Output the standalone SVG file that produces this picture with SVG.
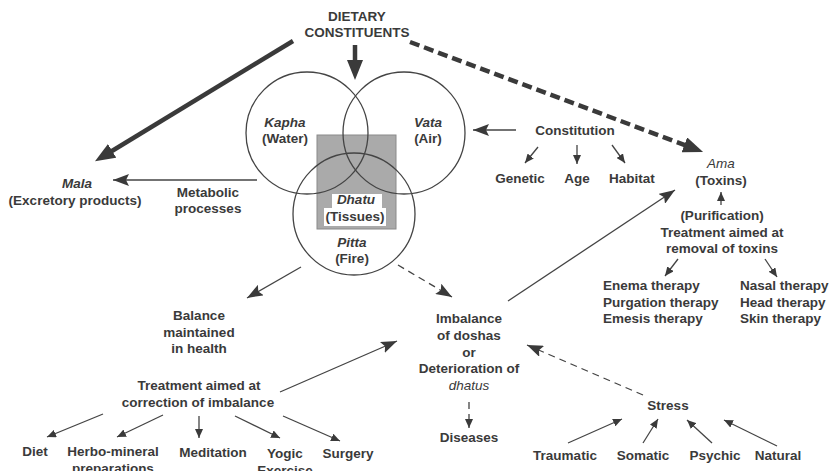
<svg xmlns="http://www.w3.org/2000/svg" width="831" height="471" viewBox="0 0 831 471">
<style>
text{font-family:"Liberation Sans",Arial,Helvetica,sans-serif;font-weight:bold;font-size:13.5px;fill:#3a3a3a;text-anchor:middle}
.l{text-anchor:start}
.i{font-style:italic}
.il{font-style:italic;font-weight:normal}
.ln{stroke:#444;stroke-width:1.3;fill:none}
.hv{stroke:#3a3a3a;stroke-width:4.5;fill:none}
.dash{stroke-dasharray:7 5}
.hdash{stroke-dasharray:10 5}
.circ{stroke:#444;stroke-width:1.3;fill:none}
</style>
<defs>
<marker id="big" markerUnits="userSpaceOnUse" markerWidth="22" markerHeight="16" refX="6" refY="8" orient="auto"><path d="M0,0 L20,8 L0,16 z" fill="#3a3a3a"/></marker>
<marker id="med" markerUnits="userSpaceOnUse" markerWidth="18" markerHeight="12" refX="16" refY="6" orient="auto"><path d="M0,0 L16,6 L0,12 L3,6 z" fill="#3a3a3a"/></marker>
<marker id="sm" markerUnits="userSpaceOnUse" markerWidth="10" markerHeight="8" refX="9" refY="4" orient="auto"><path d="M0,0 L9,4 L0,8 z" fill="#3a3a3a"/></marker>
</defs>
<rect width="831" height="471" fill="#fff"/>

<g id="connectors">
<line class="hv" x1="293" y1="41" x2="107" y2="154" marker-end="url(#big)"/>
<line class="hv" x1="355" y1="45" x2="355" y2="66" marker-end="url(#big)"/>
<line class="hv hdash" x1="410" y1="42" x2="690" y2="147" marker-end="url(#big)"/>
<line class="ln" x1="257" y1="180" x2="113" y2="180" marker-end="url(#med)"/>
<line class="ln" x1="516" y1="130" x2="473" y2="130" marker-end="url(#med)"/>
<line class="ln" x1="538" y1="147" x2="525" y2="163" marker-end="url(#sm)"/>
<line class="ln" x1="577" y1="145" x2="577" y2="164" marker-end="url(#sm)"/>
<line class="ln" x1="612" y1="145" x2="625" y2="163" marker-end="url(#sm)"/>
<line class="ln" x1="721" y1="205" x2="721" y2="192" marker-end="url(#sm)"/>
<line class="ln" x1="678" y1="259" x2="665" y2="276" marker-end="url(#sm)"/>
<line class="ln" x1="765" y1="259" x2="777" y2="277" marker-end="url(#sm)"/>
<line class="ln" x1="508" y1="301" x2="675" y2="190" marker-end="url(#med)"/>
<line class="ln" x1="301" y1="267" x2="247" y2="298" marker-end="url(#med)"/>
<line class="ln dash" x1="398" y1="265" x2="452" y2="297" marker-end="url(#med)"/>
<line class="ln" x1="280" y1="392" x2="397" y2="341" marker-end="url(#med)"/>
<line class="ln" x1="103" y1="414" x2="47" y2="437" marker-end="url(#sm)"/>
<line class="ln" x1="163" y1="415" x2="117" y2="437" marker-end="url(#sm)"/>
<line class="ln" x1="199" y1="416" x2="199" y2="438" marker-end="url(#sm)"/>
<line class="ln" x1="235" y1="416" x2="280" y2="438" marker-end="url(#sm)"/>
<line class="ln" x1="283" y1="416" x2="340" y2="441" marker-end="url(#sm)"/>
<line class="ln dash" x1="469" y1="402" x2="469" y2="428" stroke-dasharray="5 4" marker-end="url(#sm)"/>
<line class="ln dash" x1="643" y1="395" x2="527" y2="345" marker-end="url(#med)"/>
<line class="ln" x1="568" y1="443" x2="622" y2="419" marker-end="url(#sm)"/>
<line class="ln" x1="643" y1="443" x2="658" y2="419" marker-end="url(#sm)"/>
<line class="ln" x1="712" y1="443" x2="687" y2="420" marker-end="url(#sm)"/>
<line class="ln" x1="777" y1="446" x2="724" y2="420" marker-end="url(#sm)"/>
</g>

<g id="venn">
<rect x="317" y="135" width="79" height="94" fill="#aaa" stroke="#8a8a8a" stroke-width="1"/>
<path d="M332,194 H382 V208 H386 V226 H324 V208 H332 z" fill="#fff"/>
<circle class="circ" cx="307" cy="133" r="61"/>
<circle class="circ" cx="404" cy="133" r="61"/>
<circle class="circ" cx="354" cy="214" r="61"/>
</g>

<g id="dietary"><text x="357" y="21">DIETARY</text><text x="357" y="37">CONSTITUENTS</text></g>
<g id="kapha"><text class="i" x="285" y="127">Kapha</text><text x="285" y="143">(Water)</text></g>
<g id="vata"><text class="i" x="428" y="127">Vata</text><text x="428" y="143">(Air)</text></g>
<g id="dhatu"><text class="i" x="356" y="204">Dhatu</text><text x="355" y="221">(Tissues)</text></g>
<g id="pitta"><text class="i" x="352" y="247">Pitta</text><text x="352" y="263">(Fire)</text></g>
<g id="mala"><text class="i" x="77" y="188">Mala</text><text x="75" y="205">(Excretory products)</text></g>
<g id="metabolic"><text x="208" y="197">Metabolic</text><text x="208" y="213">processes</text></g>
<g id="constitution"><text x="575" y="135">Constitution</text></g>
<g id="genetic"><text x="520" y="183">Genetic</text></g>
<g id="age"><text x="577" y="183">Age</text></g>
<g id="habitat"><text x="632" y="183">Habitat</text></g>
<g id="ama"><text class="il" x="721" y="168">Ama</text><text x="721" y="185">(Toxins)</text></g>
<g id="purification"><text x="722" y="220">(Purification)</text><text x="722" y="237">Treatment aimed at</text><text x="722" y="253">removal of toxins</text></g>
<g id="therapies1"><text class="l" x="603" y="290">Enema therapy</text><text class="l" x="603" y="307">Purgation therapy</text><text class="l" x="603" y="323">Emesis therapy</text></g>
<g id="therapies2"><text class="l" x="740" y="290">Nasal therapy</text><text class="l" x="740" y="307">Head therapy</text><text class="l" x="740" y="323">Skin therapy</text></g>
<g id="balance"><text x="199" y="320">Balance</text><text x="199" y="337">maintained</text><text x="199" y="353">in health</text></g>
<g id="imbalance"><text x="469" y="323">Imbalance</text><text x="469" y="340">of doshas</text><text x="469" y="357">or</text><text x="469" y="373">Deterioration of</text><text class="il" x="469" y="390">dhatus</text></g>
<g id="diseases"><text x="469" y="442">Diseases</text></g>
<g id="treatment"><text x="199" y="390">Treatment aimed at</text><text x="198" y="407">correction of imbalance</text></g>
<g id="diet"><text x="35" y="456">Diet</text></g>
<g id="herbo"><text x="113" y="456">Herbo-mineral</text><text x="113" y="473">preparations</text></g>
<g id="meditation"><text x="213" y="457">Meditation</text></g>
<g id="yogic"><text x="285" y="458">Yogic</text><text x="285" y="475">Exercise</text></g>
<g id="surgery"><text x="348" y="458">Surgery</text></g>
<g id="stress"><text x="668" y="410">Stress</text></g>
<g id="traumatic"><text x="565" y="460">Traumatic</text></g>
<g id="somatic"><text x="643" y="460">Somatic</text></g>
<g id="psychic"><text x="715" y="460">Psychic</text></g>
<g id="natural"><text x="778" y="460">Natural</text></g>
</svg>
